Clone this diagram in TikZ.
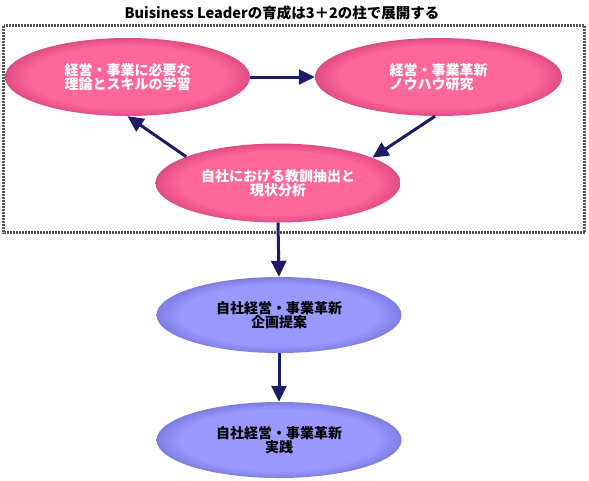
\documentclass[tikz,border=0pt]{standalone}
\usepackage{fontspec}
\setmainfont{Noto Sans CJK JP}
\usetikzlibrary{shapes.geometric,arrows.meta}
\definecolor{pk}{HTML}{FF6699}
\definecolor{pkd}{HTML}{DF4C85}
\definecolor{bl}{HTML}{9999FF}
\definecolor{bld}{HTML}{7E7EE2}
\definecolor{nv}{HTML}{1C1C66}
\definecolor{dotc}{HTML}{555555}
\pgfdeclareradialshading{pkshade}{\pgfpoint{0bp}{0bp}}{color(0bp)=(pk); color(20bp)=(pk); color(25bp)=(pkd); color(50bp)=(pkd)}
\pgfdeclareradialshading{blshade}{\pgfpoint{0bp}{0bp}}{color(0bp)=(bl); color(20bp)=(bl); color(25bp)=(bld); color(50bp)=(bld)}
\begin{document}
\begin{tikzpicture}[x=1pt,y=-1pt,
  oval/.style={ellipse, minimum width=245pt, minimum height=78pt, inner sep=0pt,
    font=\fontsize{14}{14.5}\selectfont\bfseries, align=center},
  pinkoval/.style={oval, shading=pkshade, text=white},
  blueoval/.style={oval, shading=blshade, text=black},
  arr/.style={draw=nv, line width=3pt, -{Triangle[width=15pt,length=16pt]}},
  dotbox/.style={draw=dotc, line width=3pt, dash pattern=on 2pt off 1pt}
]
\useasboundingbox (0,0) rectangle (589,480);
\draw[dotbox] (3.5,25.5) rectangle (584.5,232.5);
\node[font=\fontsize{14.5}{15}\selectfont\bfseries] (title) at (282,13) {Buisiness Leaderの育成は3＋2の柱で展開する};
\node[pinkoval] (e1) at (127.5,77) {経営・事業に必要な\\理論とスキルの学習};
\node[pinkoval, minimum width=247pt, align=left] (e2) at (438.5,77) {経営・事業革新\\ノウハウ研究};
\node[pinkoval, minimum height=79pt] (e3) at (278,183) {自社における教訓抽出と\\現状分析};
\node[blueoval, minimum height=76pt] (e4) at (279,315) {自社経営・事業革新\\企画提案};
\node[blueoval, minimum height=76pt] (e5) at (279,440) {自社経営・事業革新\\実践};
\draw[arr] (e1.east) -- (e2.west);
\draw[arr] (e2.265) -- (e3.15);
\draw[arr] (e3.164) -- (e1.south);
\draw[arr] (e3.south) -- (e4.north);
\draw[arr] (e4.south) -- (e5.north);
\end{tikzpicture}
\end{document}
